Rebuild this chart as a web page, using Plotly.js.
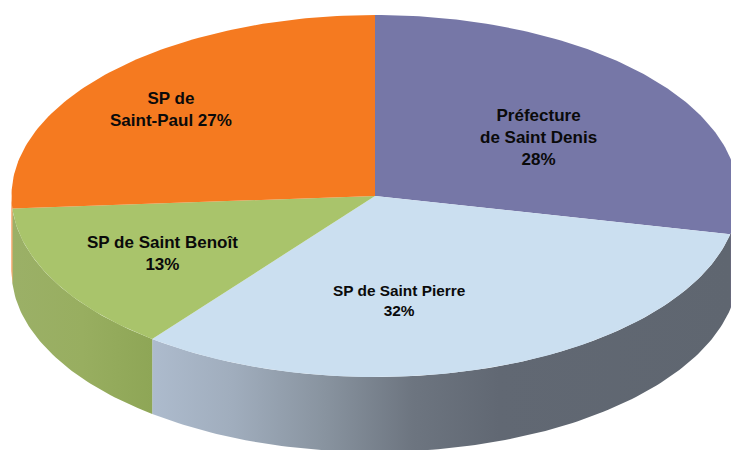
<!DOCTYPE html>
<html>
<head>
<meta charset="utf-8">
<script src="https://cdn.plot.ly/plotly-3.0.1.min.js"></script>
<style>html,body{margin:0;padding:0;background:#fff}#c{width:731px;height:450px}</style>
</head>
<body>
<div id="c"></div>
<script>
// Values
var categories = ["Préfecture de Saint Denis", "SP de Saint Pierre", "SP de Saint Benoît", "SP de Saint-Paul"];
var labelledPercent = [28, 32, 13, 27];
// Slice sizes as they appear on the tilted disc (differ slightly from the labels)
var drawnShares = [28.4, 32.1, 13.4, 26.1];
var sliceTexts = ["Préfecture<br>de Saint Denis<br>" + labelledPercent[0] + "%",
                  "SP de Saint Pierre<br>" + labelledPercent[1] + "%",
                  "SP de Saint Benoît<br>" + labelledPercent[2] + "%",
                  "SP de<br>Saint-Paul " + labelledPercent[3] + "%"];
var topColors = ["#7677a7", "#cbdff0", "#a9c46b", "#f57a20"];
var wallScales = [
  [[0, "#3c3c58"], [1, "#3c3c58"]],
  [[0, "#adbbcd"], [0.14, "#a0adbd"], [0.3, "#88939f"], [0.45, "#6d7580"], [0.6, "#616873"], [1, "#5f6670"]],
  [[0, "#9bb067"], [0.5, "#98ae60"], [1, "#8ea656"]],
  [[0, "#f57a20"], [1, "#f57a20"]]
];

// Disc geometry (axis units equal pixels)
var cx = 375, cy = 196, rx = 363.5, ry = 181, depth = 75;
function px(a) { return cx + rx * Math.sin(a * Math.PI / 180); }
function py(a) { return cy - ry * Math.cos(a * Math.PI / 180); }
function arc(a0, a1) {
  var n = Math.max(2, Math.ceil(Math.abs(a1 - a0))), pts = [];
  for (var i = 0; i <= n; i++) pts.push(a0 + (a1 - a0) * i / n);
  return pts;
}

var traces = [], tops = [], start = 0, total = drawnShares.reduce(function (s, v) { return s + v; }, 0);
drawnShares.forEach(function (v, i) {
  var a0 = start, a1 = start + v / total * 360;
  start = a1;
  // Visible side wall: only the front half of the rim
  var w0 = Math.max(a0, 90), w1 = Math.min(a1, 270);
  if (w1 > w0) {
    var up = arc(w0, w1), dn = up.slice().reverse();
    traces.push({
      type: "scatter", mode: "lines", hoverinfo: "skip", showlegend: false,
      x: up.map(px).concat(dn.map(px)),
      y: up.map(py).concat(dn.map(function (a) { return py(a) + depth; })),
      fill: "toself", line: { width: 0 }, fillcolor: wallScales[i][0][1],
      fillgradient: { type: "horizontal", colorscale: wallScales[i] }
    });
  }
  var rim = arc(a0, a1);
  tops.push({
    type: "scatter", mode: "lines", hoverinfo: "skip", showlegend: false, name: categories[i],
    x: [cx].concat(rim.map(px), [cx]),
    y: [cy].concat(rim.map(py), [cy]),
    fill: "toself", fillcolor: topColors[i], line: { width: 0 }
  });
});

var labelPlaces = [
  { x: 538, y: 137, size: 17 },
  { x: 399, y: 300, size: 15.4 },
  { x: 162, y: 253, size: 17 },
  { x: 171, y: 109, size: 17 }
];
var annotations = sliceTexts.map(function (t, i) {
  return {
    text: "<b>" + t + "</b>", x: labelPlaces[i].x, y: labelPlaces[i].y, xref: "x", yref: "y",
    showarrow: false, align: "center", xanchor: "center", yanchor: "middle",
    font: { family: "Liberation Sans, Arial, sans-serif", size: labelPlaces[i].size, color: "#0a0a0a" }
  };
});

Plotly.newPlot("c", traces.concat(tops), {
  width: 731, height: 450,
  margin: { l: 0, r: 0, t: 0, b: 0 },
  paper_bgcolor: "#ffffff", plot_bgcolor: "#ffffff",
  showlegend: false,
  xaxis: { range: [0, 731], visible: false, fixedrange: true },
  yaxis: { range: [450, 0], visible: false, fixedrange: true },
  annotations: annotations
}, { displayModeBar: false, staticPlot: true });
</script>
</body>
</html>
